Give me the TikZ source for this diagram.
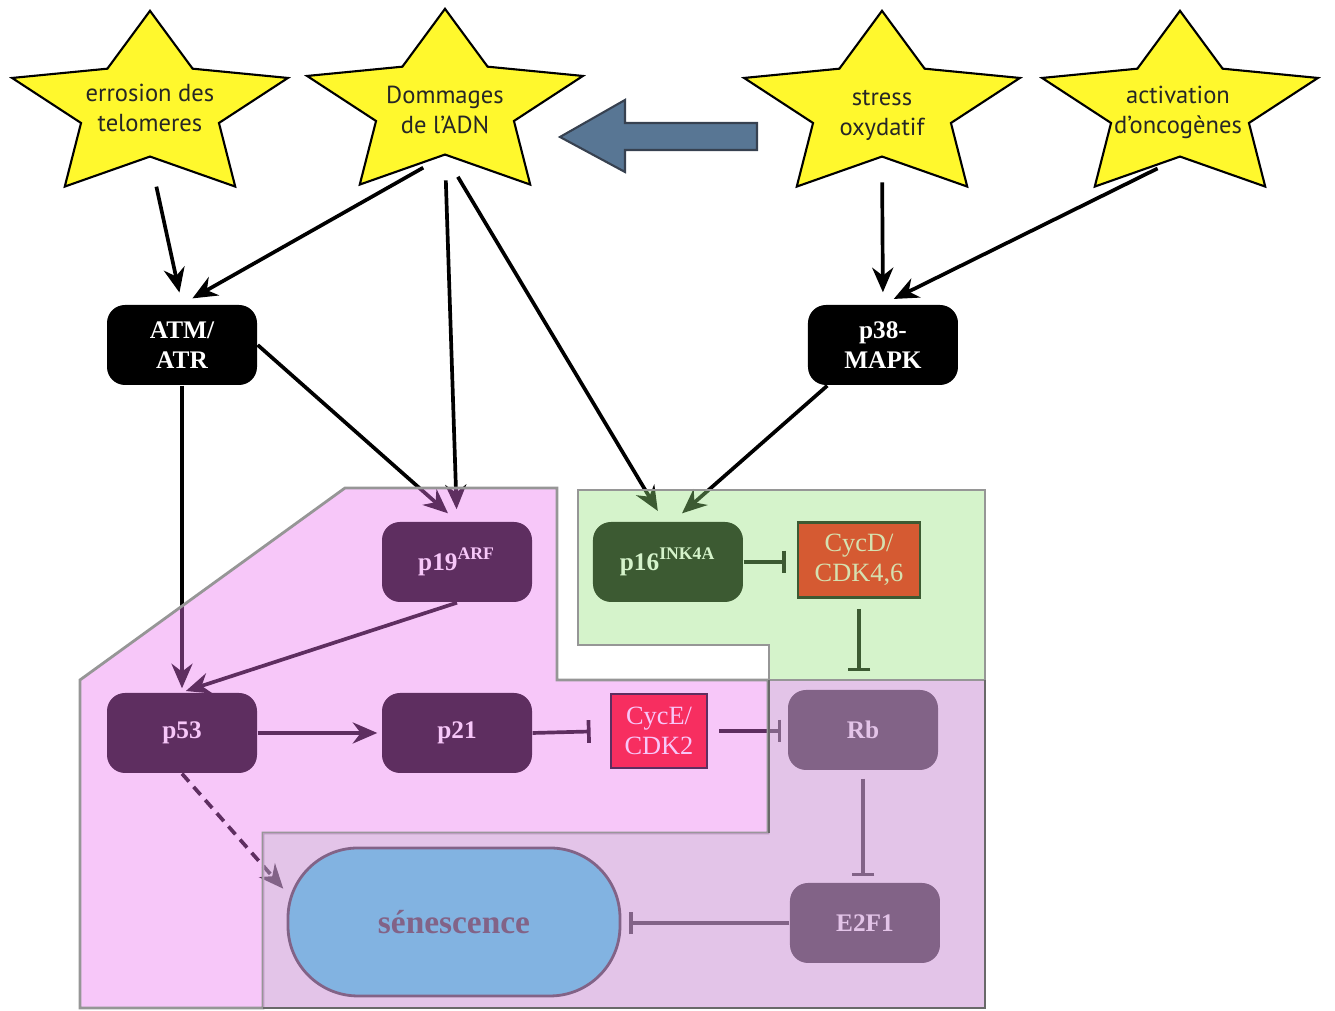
\documentclass[tikz,border=0pt]{standalone}
\usepackage{fontspec}
\setmainfont{Liberation Serif}
\newfontfamily\starfont{PT Sans}
\usetikzlibrary{arrows.meta,shapes.geometric}
\definecolor{staryellow}{RGB}{255,248,45}
\definecolor{arrowblue}{RGB}{88,118,148}
\definecolor{arrowedge}{RGB}{55,65,80}
\definecolor{zonepink}{RGB}{235,115,240}
\definecolor{zonegreen}{RGB}{150,225,125}
\definecolor{zonemauve}{RGB}{210,160,218}
\definecolor{zoneedge}{RGB}{150,150,150}
\definecolor{cyclinred}{RGB}{255,0,0}
\definecolor{cycdtext}{RGB}{255,225,210}
\definecolor{senfill}{RGB}{0,210,237}

\tikzset{
  stimulus/.style={star, star points=5, star point ratio=2, minimum size=2.9cm, inner sep=0pt, yscale=0.67, transform shape, draw=black, line width=0.6pt, fill=staryellow},
  stimtext/.style={font=\starfont\fontsize{7}{8.5}\selectfont, align=center, text=black!85},
  protein/.style={fill=black, rounded corners=0.18cm, minimum width=1.5cm, minimum height=0.8cm, align=center, text=white, font=\bfseries\fontsize{7.2}{8.4}\selectfont},
  cyclin/.style={draw=black, line width=0.8pt, fill=cyclinred, align=center, font=\fontsize{7.5}{8.4}\selectfont},
  act/.style={-{Stealth[length=7pt,width=6pt]}, line width=1.05pt, shorten >=0.12cm},
  inh/.style={-{Bar[width=6.5pt]}, line width=1.05pt},
}

\begin{document}
\begin{tikzpicture}
  \useasboundingbox (0,0) rectangle (13.35,10.11);

  %% Stimuli (stars)
  \node[stimulus] (ero) at (1.50,9.03) {};
  \node[stimulus] (dna) at (4.45,9.05) {};
  \node[stimulus] (oxy) at (8.82,9.03) {};
  \node[stimulus] (onco) at (11.80,9.03) {};
  \node[stimtext] (ero-lbl) at (1.50,9.03) {errosion des\\telomeres};
  \node[stimtext] (dna-lbl) at (4.45,9.01) {Dommages\\de l’ADN};
  \node[stimtext] (oxy-lbl) at (8.82,8.96) {stress\\oxydatif};
  \node[stimtext] (onco-lbl) at (11.78,8.99) {activation\\d’oncogènes};

  %% Big arrow
  \draw[fill=arrowblue, draw=arrowedge, line width=0.6pt] (7.57,8.88) -- (6.25,8.88) -- (6.25,9.11) -- (5.60,8.74) -- (6.25,8.39) -- (6.25,8.61) -- (7.57,8.61) -- cycle;

  %% Proteins
  \node[protein] (atm) at (1.82,6.66) {ATM/\\ATR};
  \node[protein] (p38) at (8.83,6.66) {p38-\\MAPK};
  \node[protein] (p19) at (4.57,4.49) {p19\textsuperscript{ARF}};
  \node[protein] (p53) at (1.82,2.78) {p53};
  \node[protein] (p21) at (4.57,2.78) {p21};
  \node[protein] (p16) at (6.68,4.49) {p16\textsuperscript{INK4A}};
  \node[protein] (rb) at (8.63,2.81) {Rb};
  \node[protein] (e2f1) at (8.65,0.88) {E2F1};
  \node[cyclin, minimum width=1.22cm, minimum height=0.75cm, text=cycdtext] (cycd) at (8.59,4.51) {CycD/\\CDK4,6};
  \node[cyclin, minimum width=0.96cm, minimum height=0.74cm, text=white] (cyce) at (6.59,2.80) {CycE/\\CDK2};
  \node[draw=black, line width=0.8pt, fill=senfill, rounded corners=0.7cm, minimum width=3.32cm, minimum height=1.48cm, font=\bfseries\fontsize{9.5}{11}\selectfont] (sen) at (4.54,0.89) {sénescence};

  %% Activations
  \draw[act, shorten <=0.3cm] (ero.south) -- (atm.north);
  \draw[act, shorten <=0.25cm] (dna.south) -- (atm.north);
  \draw[act, shorten <=0.25cm] (dna.south) -- (p19.north);
  \draw[act, shorten <=0.25cm] (dna.south) -- ([xshift=-0.04cm]p16.north);
  \draw[act, shorten <=0.25cm] (oxy.south) -- (p38.north);
  \draw[act, shorten <=0.25cm] (onco.south) -- (p38.north);
  \draw[act] ([xshift=0.2cm]p38.south west) -- ([xshift=0.05cm]p16.north);
  \draw[act] (atm.east) -- (p19.north);
  \draw[act, shorten >=0.04cm] (atm.south) -- (p53.north);
  \draw[act, shorten >=0.04cm] (p19.south) -- (p53.north);
  \draw[act, shorten >=0.04cm] (p53.east) -- (p21.west);
  \draw[act, dash pattern=on 3pt off 2pt, shorten >=0.05cm] (p53.south) -- (sen.170);

  %% Inhibitions
  \draw[inh, shorten >=0.19cm] (p21.east) -- (cyce.west);
  \draw[inh, shorten <=0.11cm, shorten >=0.06cm] (cyce.east) -- (cyce.east -| rb.west);
  \draw[inh, shorten >=0.11cm] (p16.east) -- (p16.east -| cycd.west);
  \draw[inh, shorten <=0.1cm, shorten >=0.18cm] (cycd.south) -- (cycd.south |- rb.north);
  \draw[inh, shorten <=0.08cm, shorten >=0.06cm] (rb.south) -- (rb.south |- e2f1.north);
  \draw[inh, shorten >=0.08cm] (e2f1.west) -- (e2f1.west -| sen.east);

  %% Regions
  \draw[draw=zoneedge, line width=0.8pt, fill=zonepink, fill opacity=0.4] (0.80,3.31) -- (3.45,5.23) -- (5.57,5.23) -- (5.57,3.31) -- (7.68,3.31) -- (7.68,1.78) -- (2.63,1.78) -- (2.63,0.03) -- (0.80,0.03) -- cycle;
  \fill[zonemauve, fill opacity=0.62] (7.69,3.31) -- (9.85,3.31) -- (9.85,0.03) -- (2.63,0.03) -- (2.63,1.78) -- (7.69,1.78) -- cycle;
  \draw[draw=zoneedge, line width=0.8pt, fill=zonegreen, fill opacity=0.4] (5.78,5.21) -- (9.85,5.21) -- (9.85,3.31) -- (7.69,3.31) -- (7.69,3.66) -- (5.78,3.66) -- cycle;
  \draw[zoneedge!70!black, line width=0.8pt] (7.69,3.31) -- (7.69,1.78);
  \draw[zoneedge!70!black, line width=0.8pt] (9.85,3.31) -- (9.85,0.03) -- (2.63,0.03);
\end{tikzpicture}
\end{document}
